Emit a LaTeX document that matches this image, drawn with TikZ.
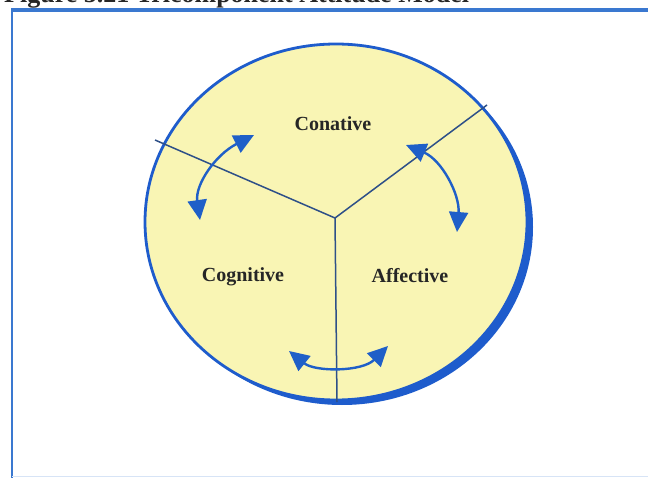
\documentclass[tikz,border=0pt]{standalone}
\usepackage{fontspec}
\setmainfont{Liberation Serif}
\usetikzlibrary{arrows.meta}
\definecolor{frameblue}{HTML}{3A78D0}
\definecolor{ringblue}{HTML}{1E5CCC}
\definecolor{fillyellow}{HTML}{F9F5B4}
\definecolor{spoke}{HTML}{2E5088}
\definecolor{arrblue}{HTML}{1F5FC8}
\tikzset{
  lbl/.style={font=\fontsize{20}{22}\selectfont\bfseries, text=black!85},
  spokeline/.style={draw=spoke, line width=1.5pt},
  twoway/.style={draw=arrblue, line width=2.4pt,
    {Triangle[length=20pt,width=19pt]}-{Triangle[length=20pt,width=19pt]}},
}
\begin{document}
\begin{tikzpicture}[x=1pt,y=-1pt]
\useasboundingbox (0,0) rectangle (648,478);
\fill[white] (0,0) rectangle (648,478);
% title (cut off at top)
\node[anchor=base west, inner sep=0pt, font=\fontsize{26}{28}\selectfont\bfseries, text=black!85] (title) at (4,3) {Figure 5.21 Tricomponent Attitude Model};
% frame
\draw[frameblue, line width=3.5pt] (11,10) -- (650,10);
\draw[frameblue, line width=2.8pt] (12,10) -- (12,480);
\draw[frameblue!20, line width=1pt] (12,476) -- (650,476);
% circle with shadowed thick edge
\fill[ringblue] (342,227) ellipse [x radius=191, y radius=178];
\filldraw[fill=fillyellow, draw=ringblue, line width=2.8pt] (336,222) ellipse [x radius=191, y radius=178];
% spokes
\coordinate (c) at (335,218);
\coordinate (pl) at (155,140);
\coordinate (pr) at (487,105);
\coordinate (pb) at (337,402);
\draw[spokeline] (pl) -- (c) -- (pr);
\draw[spokeline] (c) -- (pb);
% labels
\node[lbl] (con) at (333,124) {Conative};
\node[lbl] (cog) at (243,277) {Cognitive};
\node[lbl] (aff) at (410,276) {Affective};
% arrows
\coordinate (a1) at (200,220);
\coordinate (b1) at (254,135);
\coordinate (a2) at (406,145);
\coordinate (b2) at (457,232);
\coordinate (a3) at (289,351);
\coordinate (b3) at (388,346);
\draw[twoway] (a1) .. controls (195,185) and (215,155) .. (b1);
\draw[twoway] (a2) .. controls (442,160) and (460,195) .. (b2);
\draw[twoway] (a3) .. controls (315,372) and (362,372) .. (b3);
\end{tikzpicture}
\end{document}
